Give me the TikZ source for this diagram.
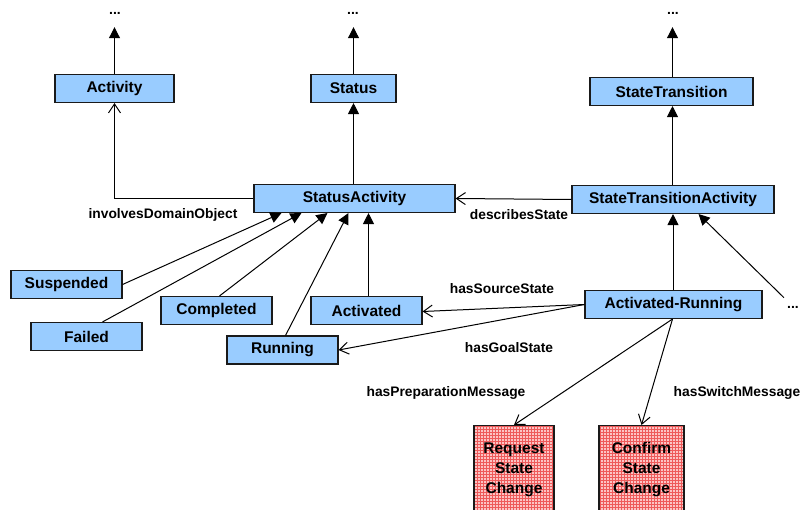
\documentclass[tikz,border=0pt]{standalone}
\usepackage{fontspec}
\setmainfont{Liberation Sans}
\usetikzlibrary{arrows.meta,patterns}
\definecolor{clsblue}{HTML}{99CCFF}
\definecolor{msgpink}{HTML}{FCC4C4}
\definecolor{msggrid}{HTML}{EE5A5A}
\definecolor{edge}{HTML}{1A1A1A}
\tikzset{
  cls/.style={draw=edge, line width=1.1pt, fill=clsblue, inner sep=0pt,
    minimum height=28pt, font=\fontsize{15.5}{18}\selectfont\bfseries},
  msg/.style={draw=edge, line width=1.1pt, preaction={fill=msgpink},
    pattern=grid, pattern color=msggrid, inner sep=0pt, align=center,
    minimum height=88pt, anchor=north,
    font=\fontsize{15.5}{20}\selectfont\bfseries},
  lbl/.style={inner sep=0pt, font=\fontsize{13.8}{16}\selectfont\bfseries},
  more/.style={inner sep=0pt, anchor=base, font=\fontsize{14}{16}\selectfont\bfseries},
  gen/.style={line width=1pt, -{Triangle[width=11pt,length=11pt]}},
  rel/.style={line width=1pt, -{Straight Barb[length=9pt,width=12pt]}},
}
\begin{document}
\begin{tikzpicture}[x=1pt,y=-1pt]
\useasboundingbox (0,0) rectangle (800,510);
\clip (0,0) rectangle (800,510);

% upper classes
\node[cls, minimum width=119pt] (activity) at (114.5,88.5) {Activity};
\node[cls, minimum width=85pt]  (status)   at (353.5,88.5) {Status};
\node[cls, minimum width=163pt] (st)       at (671.5,91.5) {StateTransition};
\node[cls, minimum width=201pt] (sa)       at (354.5,198.5) {StatusActivity};
\node[cls, minimum width=202pt] (sta)      at (673,199.5) {StateTransitionActivity};

% ellipsis markers
\node[more] (m1) at (115,15) {...};
\node[more] (m2) at (353,15) {...};
\node[more] (m3) at (673,15) {...};
\node[more] (m4) at (793,309) {...};

% status instances
\node[cls, minimum width=111pt] (susp)  at (66.5,284.5)  {Suspended};
\node[cls, minimum width=111pt] (fail)  at (86.5,336.5)  {Failed};
\node[cls, minimum width=111pt] (comp)  at (216.5,310.5) {Completed};
\node[cls, minimum width=111pt] (actd)  at (366.5,310.5) {Activated};
\node[cls, minimum width=111pt] (run)   at (282.5,350) {Running};
\node[cls, minimum width=177pt] (ar)    at (673.5,304.5) {Activated-Running};

% messages
\node[msg, minimum width=80pt] (req)  at (514,425) {Request\\State\\Change};
\node[msg, minimum width=85pt] (conf) at (641.5,425) {Confirm\\State\\Change};

% generalisation links
\draw[gen, shorten >=12pt] (activity.north) -- (activity.north |- m1.south);
\draw[gen, shorten >=12pt] (status.north) -- (status.north |- m2.south);
\draw[gen, shorten >=12pt] ([xshift=1pt]st.north) -- ([xshift=1pt]st.north |- m3.south);
\draw[gen] (sa.north -| status.south) -- (status.south);
\draw[gen] ([xshift=1pt]st.south |- sta.north) -- ([xshift=1pt]st.south);
\draw[gen] (ar.north -| sta.south) -- (sta.south);
\draw[gen] ([xshift=-3pt,yshift=9pt]m4.north west) -- ([xshift=-76pt]sta.south east);

\draw[gen] (susp.east) -- ([xshift=28pt]sa.south west);
\draw[gen] ([xshift=16pt]fail.north) -- ([xshift=48pt]sa.south west);
\draw[gen] ([xshift=3pt]comp.north) -- ([xshift=74pt]sa.south west);
\draw[gen] ([xshift=3pt]run.north) -- ([xshift=95pt]sa.south west);
\draw[gen] ([xshift=2pt]actd.north) -- ([xshift=2pt]actd.north |- sa.south);

% properties
\draw[rel] (sa.west) -| (activity.south);
\draw[rel] (sta.west) -- (sa.east);
\draw[rel] (ar.west) -- ([yshift=-1pt]actd.east);
\draw[rel] (ar.west) -- (run.east);
\draw[rel] ([xshift=-1pt]ar.south) -- (req.north);
\draw[rel] ([xshift=-1pt]ar.south) -- (conf.north);

\node[lbl] (l1) at (163,215) {involvesDomainObject};
\node[lbl] (l2) at (519,215) {describesState};
\node[lbl] (l3) at (502,289) {hasSourceState};
\node[lbl] (l4) at (509,348) {hasGoalState};
\node[lbl] (l5) at (446,393) {hasPreparationMessage};
\node[lbl] (l6) at (737,393) {hasSwitchMessage};
\end{tikzpicture}
\end{document}
